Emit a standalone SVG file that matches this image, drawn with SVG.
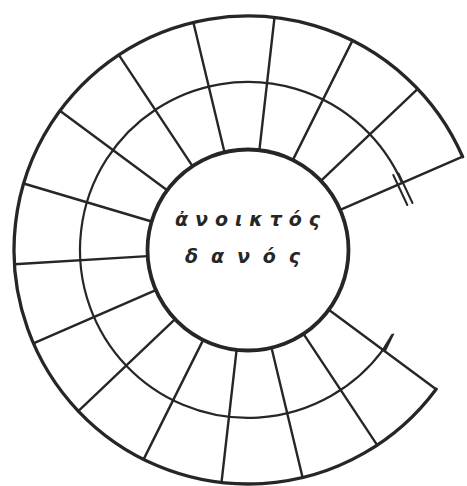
<svg xmlns="http://www.w3.org/2000/svg" width="467" height="486" viewBox="0 0 467 486">
  <style>
    .ln { fill: none; stroke: #262626; stroke-linecap: round; stroke-linejoin: round; }
    .outer { stroke-width: 3.3; }
    .inner { stroke-width: 3.8; }
    .mid { stroke-width: 2.2; }
    .rad { stroke-width: 2.4; }
    .tick { stroke-width: 2; }
    .lbl { font-family: "DejaVu Sans", "Noto Sans", sans-serif; font-style: italic; font-weight: bold; font-size: 19px; fill: #262626; }
  </style>
  <rect width="467" height="486" fill="#ffffff"/>
  <g id="rings">
    <path class="ln outer" d="M462.6,156.7 A234,234 0 1 0 436.1,389.2"/>
    <path class="ln mid" d="M402.1,183.0 A168,168 0 1 0 383.0,349.9"/>
    <circle class="ln inner" cx="248" cy="250" r="100.5"/>
  </g>
  <g id="connectors">
    <path class="ln rad" d="M340.2,209.9 L462.6,156.7"/>
    <path class="ln rad" d="M320.9,180.8 L417.7,88.9"/>
    <path class="ln rad" d="M292.8,160.1 L352.4,40.6"/>
    <path class="ln rad" d="M259.4,150.1 L274.5,17.5"/>
    <path class="ln rad" d="M224.5,152.3 L193.4,22.5"/>
    <path class="ln rad" d="M192.5,166.2 L118.8,54.9"/>
    <path class="ln rad" d="M167.2,190.2 L59.9,110.8"/>
    <path class="ln rad" d="M151.6,221.5 L23.6,183.5"/>
    <path class="ln rad" d="M147.7,256.1 L14.4,264.3"/>
    <path class="ln rad" d="M155.8,290.1 L33.4,343.3"/>
    <path class="ln rad" d="M175.1,319.2 L78.3,411.1"/>
    <path class="ln rad" d="M203.2,339.9 L143.6,459.4"/>
    <path class="ln rad" d="M236.6,349.9 L221.5,482.5"/>
    <path class="ln rad" d="M271.5,347.7 L302.6,477.5"/>
    <path class="ln rad" d="M303.5,333.8 L377.2,445.1"/>
    <path class="ln rad" d="M328.8,309.8 L436.1,389.2"/>
  </g>
  <g id="marks">
    <path class="ln tick" d="M393.3,175 L407.3,205"/>
    <path class="ln tick" d="M398.5,173.5 L412.5,203"/>
    <polygon points="381,351 386,351 394.5,333.5 391.5,334" fill="#262626"/>
  </g>
  <g id="label">
    <text class="lbl" x="175" y="226" textLength="145" lengthAdjust="spacing">ἀνοικτός</text>
    <text class="lbl" x="185" y="263" textLength="115" lengthAdjust="spacing">δανός</text>
  </g>
</svg>
